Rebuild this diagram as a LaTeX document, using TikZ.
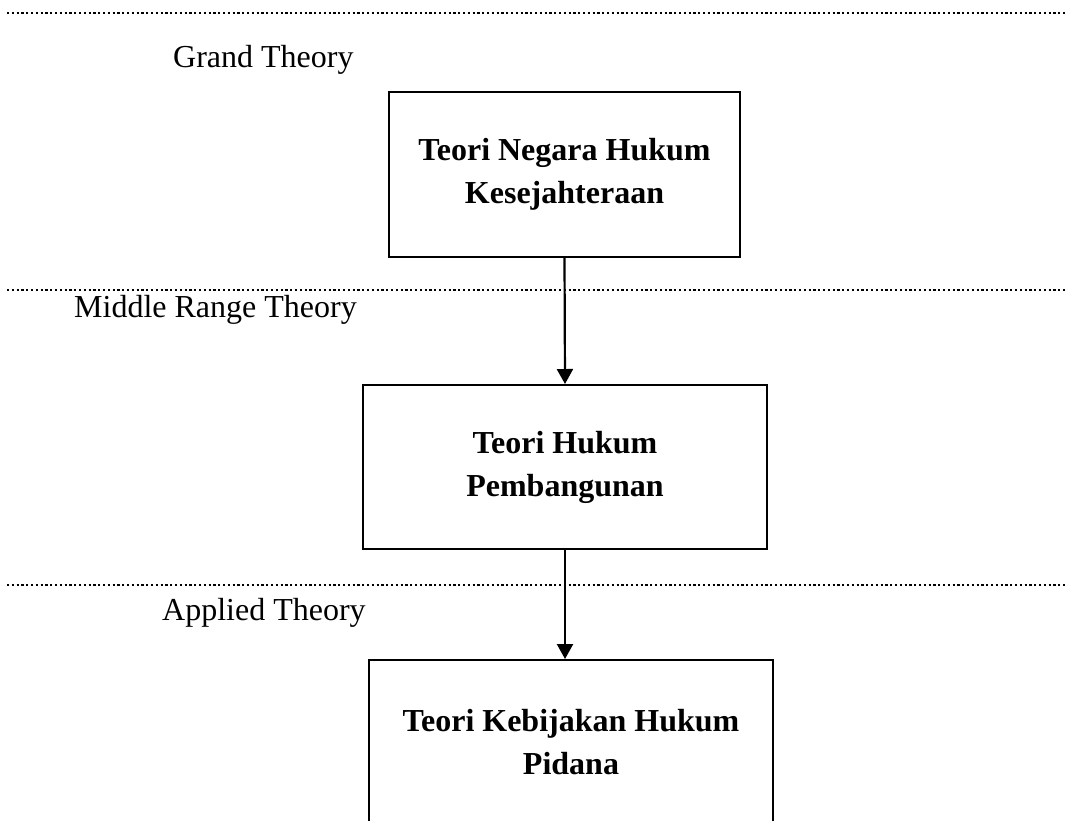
\documentclass[tikz,border=0pt]{standalone}
\usepackage{fontspec}
\setmainfont{Liberation Serif}
\usetikzlibrary{arrows.meta}
\tikzset{
  theorybox/.style={draw, line width=2pt, rectangle, inner sep=0pt, align=center,
    font=\fontsize{32}{43}\selectfont\bfseries},
  levellabel/.style={anchor=base west, inner sep=0pt, font=\fontsize{32}{43}\selectfont},
  levelline/.style={line width=2.2pt, dash pattern=on 2.1pt off 2.7pt},
  flow/.style={line width=2.2pt, -{Triangle[length=15pt,width=16pt]}}
}
\begin{document}
\begin{tikzpicture}[x=1pt,y=-1pt]
\useasboundingbox (0,0) rectangle (1068,820);
% level separators
\draw[levelline] (7,13) -- (1068,13);
\draw[levelline] (7,290) -- (1068,290);
\draw[levelline] (7,585) -- (1068,585);
% level labels
\node[levellabel] (grand) at (173,67) {Grand Theory};
\node[levellabel] (middle) at (74,317) {Middle Range Theory};
\node[levellabel] (applied) at (162,620) {Applied Theory};
% boxes
\node[theorybox, minimum width=351pt, minimum height=165pt] (b1) at (564.5,174.5)
  {Teori Negara Hukum\\Kesejahteraan};
\node[theorybox, minimum width=404pt, minimum height=164pt] (b2) at (565,467)
  {Teori Hukum\\Pembangunan};
\node[theorybox, minimum width=404pt, minimum height=164pt] (b3) at (571,742)
  {Teori Kebijakan Hukum\\Pidana};
% arrows
\draw[flow] (b1.south) -- (b2.north);
\draw[flow] (b2.south) -- (b2.south |- b3.north);
\end{tikzpicture}
\end{document}
